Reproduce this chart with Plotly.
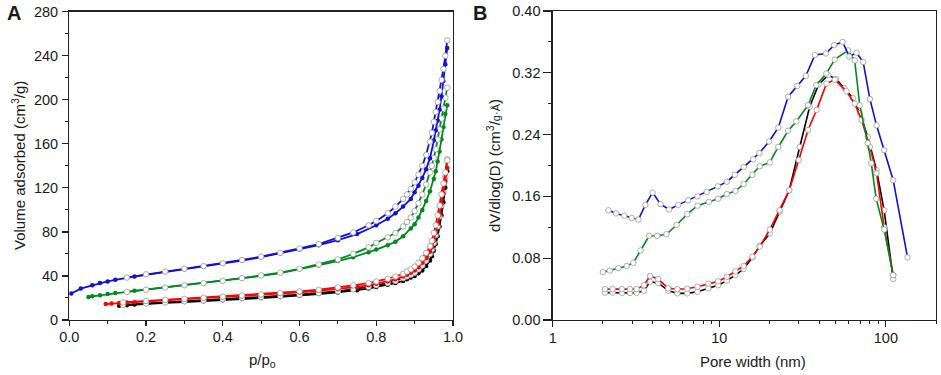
import plotly.graph_objects as go

# ---------------- Panel A: N2 isotherms ----------------
black_ads_p = [0.13, 0.15, 0.17, 0.20, 0.25, 0.30, 0.35, 0.40, 0.45, 0.50, 0.55, 0.60, 0.65, 0.70, 0.75, 0.78, 0.80, 0.83, 0.85, 0.87, 0.88, 0.89, 0.90, 0.91, 0.92, 0.93, 0.94, 0.945, 0.95, 0.955, 0.96, 0.965, 0.97, 0.975, 0.98, 0.985]
black_ads_v = [13, 13.5, 14, 14.5, 15.5, 16.3, 17.1, 18, 19, 20, 21, 22, 23.5, 25, 27, 28.5, 30, 32, 33.5, 35.5, 37, 38.5, 40, 42.5, 45, 49, 54, 58, 63, 69, 76, 85, 95, 107, 120, 135]
black_des_p = [0.14, 0.2, 0.25, 0.3, 0.35, 0.4, 0.45, 0.5, 0.55, 0.6, 0.65, 0.7, 0.74, 0.78, 0.8, 0.83, 0.85, 0.87, 0.88, 0.89, 0.9, 0.91, 0.92, 0.93, 0.94, 0.945, 0.95, 0.955, 0.96, 0.965, 0.97, 0.975, 0.98, 0.985]
black_des_v = [13.8, 15, 16, 17, 17.8, 18.8, 19.8, 20.8, 21.8, 23, 24.5, 26, 28, 30, 31.5, 33.5, 35.5, 38, 39.5, 41, 43, 46, 49.5, 54, 60, 64, 70, 77, 85, 94, 104, 116, 130, 146]

red_ads_p = [0.095, 0.11, 0.13, 0.15, 0.17, 0.20, 0.25, 0.30, 0.35, 0.40, 0.45, 0.50, 0.55, 0.60, 0.65, 0.70, 0.75, 0.78, 0.80, 0.83, 0.85, 0.87, 0.88, 0.89, 0.90, 0.91, 0.92, 0.93, 0.94, 0.945, 0.95, 0.955, 0.96, 0.965, 0.97, 0.975, 0.98, 0.985]
red_ads_v = [14.5, 15, 15.5, 15.8, 16.2, 16.8, 17.8, 18.7, 19.6, 20.5, 21.5, 22.5, 23.5, 25, 26.5, 28, 30, 31.5, 33, 35, 37, 39.5, 41, 43, 45, 48, 52, 56, 62, 66, 72, 79, 87, 95, 105, 115, 126, 138]
red_des_p = [0.14, 0.2, 0.25, 0.3, 0.35, 0.4, 0.45, 0.5, 0.55, 0.6, 0.65, 0.7, 0.74, 0.78, 0.8, 0.83, 0.85, 0.87, 0.88, 0.89, 0.9, 0.91, 0.92, 0.93, 0.94, 0.945, 0.95, 0.955, 0.96, 0.965, 0.97, 0.975, 0.98, 0.985]
red_des_v = [16, 17.3, 18.3, 19.2, 20.2, 21.2, 22.2, 23.2, 24.5, 26, 27.5, 29.5, 31.5, 33.5, 35, 37.5, 39.5, 42, 44, 46, 48.5, 52, 56, 61, 67, 72, 79, 86, 95, 104, 114, 124, 134, 145]

green_ads_p = [0.05, 0.06, 0.08, 0.10, 0.12, 0.15, 0.17, 0.20, 0.25, 0.30, 0.35, 0.40, 0.45, 0.50, 0.55, 0.60, 0.65, 0.70, 0.74, 0.78, 0.80, 0.83, 0.85, 0.87, 0.89, 0.90, 0.91, 0.92, 0.93, 0.94, 0.95, 0.955, 0.96, 0.965, 0.97, 0.975, 0.98, 0.985]
green_ads_v = [21, 21.5, 22.5, 23.5, 24.5, 25.5, 26.5, 27.5, 29.5, 31.5, 33.5, 35.5, 37.5, 40, 42.5, 46, 49.5, 53.5, 57, 61.5, 64, 68, 71, 76, 83, 87, 93, 100, 108, 117, 128, 135, 144, 153, 164, 175, 187, 195]
green_des_p = [0.15, 0.2, 0.25, 0.3, 0.35, 0.4, 0.45, 0.5, 0.55, 0.6, 0.65, 0.7, 0.74, 0.78, 0.8, 0.83, 0.85, 0.87, 0.88, 0.89, 0.9, 0.91, 0.92, 0.93, 0.94, 0.945, 0.95, 0.955, 0.96, 0.965, 0.97, 0.975, 0.98, 0.985]
green_des_v = [25.5, 27.5, 29.5, 31.5, 33.5, 35.5, 38, 40.5, 43, 46.5, 50.5, 55, 60, 66, 70, 75, 79, 85, 89, 93, 99, 106, 114, 123, 134, 140, 147, 155, 164, 173, 183, 192, 202, 211]

blue_ads_p = [0.005, 0.03, 0.06, 0.08, 0.10, 0.12, 0.15, 0.17, 0.20, 0.25, 0.30, 0.35, 0.40, 0.45, 0.50, 0.55, 0.60, 0.65, 0.70, 0.75, 0.80, 0.83, 0.85, 0.87, 0.89, 0.90, 0.91, 0.92, 0.93, 0.94, 0.95, 0.955, 0.96, 0.965, 0.97, 0.975, 0.98, 0.985]
blue_ads_v = [24, 28.5, 31.5, 33.5, 35, 36.5, 38.5, 39.5, 41, 43.5, 46, 48.5, 51, 54, 57, 60.5, 64, 68, 72.5, 78, 86, 92, 97, 103, 110, 116, 122, 129, 137, 147, 163, 172, 181, 191, 203, 217, 232, 247]
blue_des_p = [0.15, 0.2, 0.25, 0.3, 0.35, 0.4, 0.45, 0.5, 0.55, 0.6, 0.65, 0.7, 0.74, 0.78, 0.8, 0.83, 0.85, 0.87, 0.88, 0.89, 0.9, 0.91, 0.92, 0.93, 0.94, 0.945, 0.95, 0.955, 0.96, 0.965, 0.97, 0.975, 0.98, 0.985]
blue_des_v = [38.5, 41.5, 44, 46.5, 49, 51.5, 54.5, 57.5, 61, 65, 69, 74.5, 79.5, 86, 90, 97, 103, 110, 114, 119, 125, 132, 140, 150, 162, 170, 180, 189, 198, 208, 218, 228, 240, 254]

# ---------------- Panel B: pore size distributions ----------------
black_w = [2.06, 2.29, 2.6, 2.91, 3.19, 3.53, 3.84, 4.3, 4.93, 5.6, 6.42, 7.4, 8.6, 9.84, 11.1, 12.5, 14.0, 15.8, 17.5, 20.1, 23.0, 26.3, 30.4, 34.9, 39.5, 45.0, 50.3, 56.5, 63.4, 69.7, 77.9, 87.9, 97.7, 110.7]
black_d = [0.0355, 0.0355, 0.035, 0.035, 0.035, 0.038, 0.0495, 0.048, 0.038, 0.0345, 0.0345, 0.0365, 0.041, 0.045, 0.051, 0.058, 0.066, 0.081, 0.096, 0.112, 0.140, 0.168, 0.224, 0.276, 0.305, 0.317, 0.312, 0.300, 0.287, 0.268, 0.237, 0.194, 0.142, 0.053]

red_w = [2.06, 2.29, 2.6, 2.91, 3.19, 3.53, 3.84, 4.3, 4.93, 5.6, 6.42, 7.4, 8.6, 9.84, 11.1, 12.5, 14.0, 15.8, 17.5, 20.1, 23.0, 26.3, 30.0, 34.1, 38.4, 44.0, 49.4, 58.0, 65.0, 71.5, 80.2, 87.9, 97.7, 110.7]
red_d = [0.040, 0.040, 0.040, 0.040, 0.040, 0.045, 0.057, 0.053, 0.041, 0.040, 0.0405, 0.043, 0.047, 0.050, 0.056, 0.063, 0.070, 0.082, 0.095, 0.117, 0.142, 0.168, 0.207, 0.246, 0.272, 0.306, 0.311, 0.296, 0.280, 0.259, 0.224, 0.190, 0.120, 0.058]

green_w = [2.0, 2.2, 2.48, 2.78, 3.05, 3.37, 3.79, 4.24, 4.82, 5.54, 6.42, 7.4, 8.66, 9.84, 11.1, 12.5, 14.0, 15.8, 17.5, 20.1, 22.6, 25.9, 29.0, 34.1, 38.2, 43.9, 49.3, 59.3, 65.0, 69.7, 77.9, 81.7, 87.5, 97.7, 110.7]
green_d = [0.062, 0.064, 0.067, 0.070, 0.074, 0.090, 0.109, 0.109, 0.111, 0.123, 0.137, 0.148, 0.153, 0.157, 0.163, 0.167, 0.176, 0.188, 0.199, 0.204, 0.224, 0.245, 0.257, 0.278, 0.304, 0.319, 0.337, 0.349, 0.336, 0.278, 0.229, 0.203, 0.157, 0.117, 0.058]

blue_w = [2.16, 2.4, 2.69, 2.98, 3.27, 3.6, 3.98, 4.44, 5.0, 5.67, 6.5, 7.4, 8.4, 9.8, 11.1, 12.4, 14.0, 16.0, 17.4, 19.9, 22.6, 25.9, 29.4, 33.1, 37.5, 43.7, 49.0, 55.0, 60.3, 66.7, 73.1, 80.2, 87.9, 97.7, 110.7, 134.9]
blue_d = [0.142, 0.138, 0.135, 0.132, 0.130, 0.149, 0.165, 0.150, 0.143, 0.149, 0.155, 0.160, 0.166, 0.173, 0.179, 0.188, 0.198, 0.208, 0.216, 0.231, 0.249, 0.289, 0.303, 0.316, 0.343, 0.345, 0.356, 0.360, 0.341, 0.346, 0.334, 0.286, 0.252, 0.220, 0.181, 0.081]

# ticks
a_xticks = [0.0, 0.2, 0.4, 0.6, 0.8, 1.0]
a_xticktext = ["0.0", "0.2", "0.4", "0.6", "0.8", "1.0"]
a_yticks = [0, 40, 80, 120, 160, 200, 240, 280]
b_xticks = [1, 10, 100]
b_xticktext = ["1", "10", "100"]
b_xminor = [2, 3, 4, 5, 6, 7, 8, 9, 20, 30, 40, 50, 60, 70, 80, 90, 200]
b_yticks = [0.0, 0.08, 0.16, 0.24, 0.32, 0.40]
b_yticktext = ["0.00", "0.08", "0.16", "0.24", "0.32", "0.40"]

COL = {"black": "#000000", "red": "#ff0000", "green": "#008a1e", "blue": "#1010d8"}
FONT = "Arial, Liberation Sans, sans-serif"
TXT = "#1a1a1a"

fig = go.Figure()

iso = [
    ("black", black_ads_p, black_ads_v, black_des_p, black_des_v),
    ("red", red_ads_p, red_ads_v, red_des_p, red_des_v),
    ("green", green_ads_p, green_ads_v, green_des_p, green_des_v),
    ("blue", blue_ads_p, blue_ads_v, blue_des_p, blue_des_v),
]
for name, ap, av, dp, dv in iso:
    c = COL[name]
    fig.add_trace(go.Scatter(x=ap, y=av, mode="lines+markers", xaxis="x", yaxis="y",
                             line=dict(color=c, width=1.8),
                             marker=dict(symbol="circle", size=4.5, color=c, line=dict(width=0)),
                             showlegend=False))
    fig.add_trace(go.Scatter(x=dp, y=dv, mode="lines+markers", xaxis="x", yaxis="y",
                             line=dict(color=c, width=1.8),
                             marker=dict(symbol="circle", size=5.5, color="white", line=dict(color="#999999", width=0.8)),
                             showlegend=False))

psd = [
    ("black", black_w, black_d),
    ("red", red_w, red_d),
    ("green", green_w, green_d),
    ("blue", blue_w, blue_d),
]
for name, w, d in psd:
    c = COL[name]
    fig.add_trace(go.Scatter(x=w, y=d, mode="lines+markers", xaxis="x2", yaxis="y2",
                             line=dict(color=c, width=1.6),
                             marker=dict(symbol="circle", size=5.5, color="white", line=dict(color="#999999", width=0.8)),
                             showlegend=False))

def axis(**kw):
    base = dict(showline=True, linecolor="#222222", linewidth=1.3, mirror=True,
                ticks="outside", tickwidth=1.2, tickcolor="#222222",
                showgrid=False, zeroline=False, automargin=False,
                tickfont=dict(family=FONT, size=14.5, color=TXT))
    base.update(kw)
    return base

def minor(**kw):
    base = dict(ticks="outside", ticklen=3, tickwidth=1, tickcolor="#222222", showgrid=False)
    base.update(kw)
    return base

fig.update_layout(
    template="none",
    width=941, height=375,
    margin=dict(l=0, r=0, t=0, b=0),
    paper_bgcolor="white", plot_bgcolor="white",
    font=dict(family=FONT, size=15, color=TXT),
    hovermode=False,
    xaxis=axis(domain=[69.3 / 941, 453 / 941], anchor="y", range=[0, 1.0], ticklen=5,
               tickmode="array", tickvals=a_xticks, ticktext=a_xticktext,
               ticklabelstandoff=-2,
               minor=minor(dtick=0.1, tick0=0)),
    yaxis=axis(domain=[1 - 320 / 375, 1 - 11.7 / 375], anchor="x", range=[0, 280], ticklen=6,
               tickmode="array", tickvals=a_yticks, ticklabelstandoff=1,
               minor=minor(dtick=20, tick0=0)),
    xaxis2=axis(domain=[552.7 / 941, 936 / 941], anchor="y2", type="log", range=[0, 2.30103], ticklen=6,
                tickmode="array", tickvals=b_xticks, ticktext=b_xticktext,
                ticklabelstandoff=-2,
                minor=minor(tickvals=b_xminor)),
    yaxis2=axis(domain=[1 - 320 / 375, 1 - 11 / 375], anchor="x2", range=[0, 0.40], ticklen=8,
                tickmode="array", tickvals=b_yticks, ticktext=b_yticktext,
                minor=minor(dtick=0.04, tick0=0)),
)

ann = [
    dict(text="<b>A</b>", x=13.5 / 941, y=1 - 13 / 375, size=20),
    dict(text="<b>B</b>", x=480 / 941, y=1 - 13 / 375, size=20),
    dict(text="p/p<sub>o</sub>", x=262 / 941, y=1 - 360 / 375, size=15),
    dict(text="Pore width (nm)", x=753 / 941, y=1 - 361 / 375, size=15),
    dict(text="Volume adsorbed (cm<sup>3</sup>/g)", x=18 / 941, y=1 - 166 / 375, angle=-90, size=15),
    dict(text="dV/dlog(D) (cm<sup>3</sup>/<span style='font-size:11px'>g·Å</span>)", x=493 / 941, y=1 - 166 / 375, angle=-90, size=15),
]
for a in ann:
    fig.add_annotation(text=a["text"], x=a["x"], y=a["y"], xref="paper", yref="paper",
                       showarrow=False, xanchor="center", yanchor="middle",
                       textangle=a.get("angle", 0),
                       font=dict(family=FONT, size=a["size"], color=TXT))

fig.write_html("out.html",
               config={"displayModeBar": False, "staticPlot": True},
               post_script="document.body.style.margin='0';document.body.style.padding='0';document.body.style.overflow='hidden';")
